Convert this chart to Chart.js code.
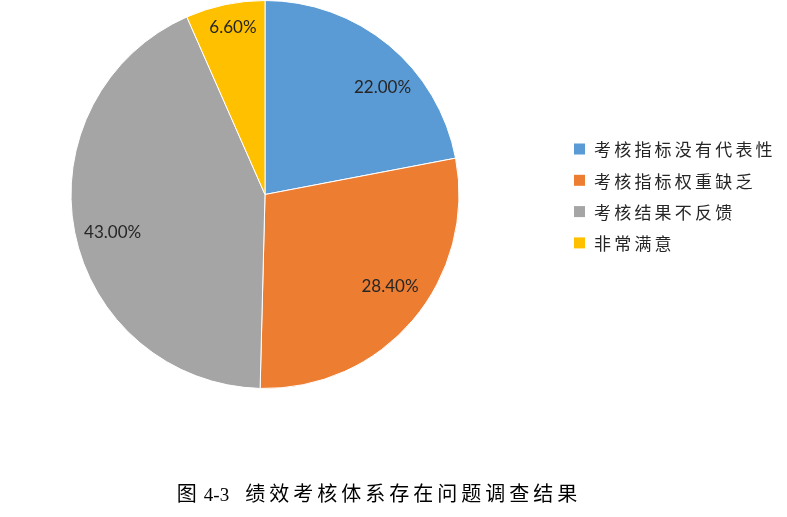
<!DOCTYPE html>
<html>
<head>
<meta charset="utf-8">
<script src="https://cdn.jsdelivr.net/npm/chart.js@4/dist/chart.umd.min.js"></script>
<style>
  html, body { margin: 0; padding: 0; background: #fff; overflow: hidden; }
  #wrap { position: relative; width: 787px; height: 517px; }
  #caption {
    position: absolute; left: 0; width: 758px; top: 478px;
    text-align: center; font-family: "Liberation Serif", "Noto Sans CJK SC", serif;
    font-size: 20px; color: #000; white-space: nowrap;
  }
  #caption .fig { margin-right: 7px; }
  #caption .num { font-size: 19px; margin-right: 16px; }
  #caption .cjk { letter-spacing: 4px; }
</style>
</head>
<body>
<div id="wrap">
  <canvas id="pie" width="787" height="517"></canvas>
  <div id="caption"><span class="fig">图</span><span class="num">4-3</span><span class="cjk">绩效考核体系存在问题调查结果</span></div>
</div>
<script>
const categories = ['考核指标没有代表性', '考核指标权重缺乏', '考核结果不反馈', '非常满意'];
const shares = [22.0, 28.4, 43.0, 6.6];
const colors = ['#5B9BD5', '#ED7D31', '#A5A5A5', '#FFC000'];

// where each percentage sits inside its slice (fraction of radius, angle nudge in degrees)
const labelRadius = [0.82, 0.80, 0.81, 0.875];
const labelShift = [8, -4, -3, 1];

const pctLabels = {
    id: 'pctLabels',
    afterDatasetsDraw(chart) {
        const ctx = chart.ctx;
        const meta = chart.getDatasetMeta(0);
        ctx.save();
        ctx.font = '17px Lato';
        ctx.fillStyle = '#262626';
        ctx.textAlign = 'center';
        ctx.textBaseline = 'middle';
        meta.data.forEach((arc, i) => {
            const p = arc.getProps(['x', 'y', 'startAngle', 'endAngle', 'outerRadius'], true);
            const mid = (p.startAngle + p.endAngle) / 2 + labelShift[i] * Math.PI / 180;
            const r = p.outerRadius * labelRadius[i];
            ctx.fillText(shares[i].toFixed(2) + '%', p.x + Math.cos(mid) * r, p.y + Math.sin(mid) * r);
        });
        ctx.restore();
    }
};

const sideLegend = {
    id: 'sideLegend',
    afterDraw(chart) {
        const ctx = chart.ctx;
        const x0 = 574, y0 = 149, gap = 31.3;
        ctx.save();
        ctx.font = '17px "Noto Sans CJK SC"';
        ctx.letterSpacing = '3.2px';
        ctx.textBaseline = 'middle';
        chart.data.labels.forEach((name, i) => {
            const y = y0 + i * gap;
            ctx.fillStyle = chart.data.datasets[0].backgroundColor[i];
            ctx.fillRect(x0, y - 5.5, 11, 11);
            ctx.fillStyle = '#262626';
            ctx.fillText(name, x0 + 20, y + 1);
        });
        ctx.restore();
    }
};

new Chart(document.getElementById('pie'), {
    type: 'pie',
    data: {
        labels: categories,
        datasets: [{
            data: shares,
            backgroundColor: colors,
            borderColor: '#ffffff',
            borderWidth: 1
        }]
    },
    options: {
        responsive: false,
        animation: false,
        events: [],
        layout: { padding: { left: 70, right: 327, top: 0, bottom: 128 } },
        plugins: {
            legend: { display: false },
            tooltip: { enabled: false }
        }
    },
    plugins: [pctLabels, sideLegend]
});
</script>
</body>
</html>
